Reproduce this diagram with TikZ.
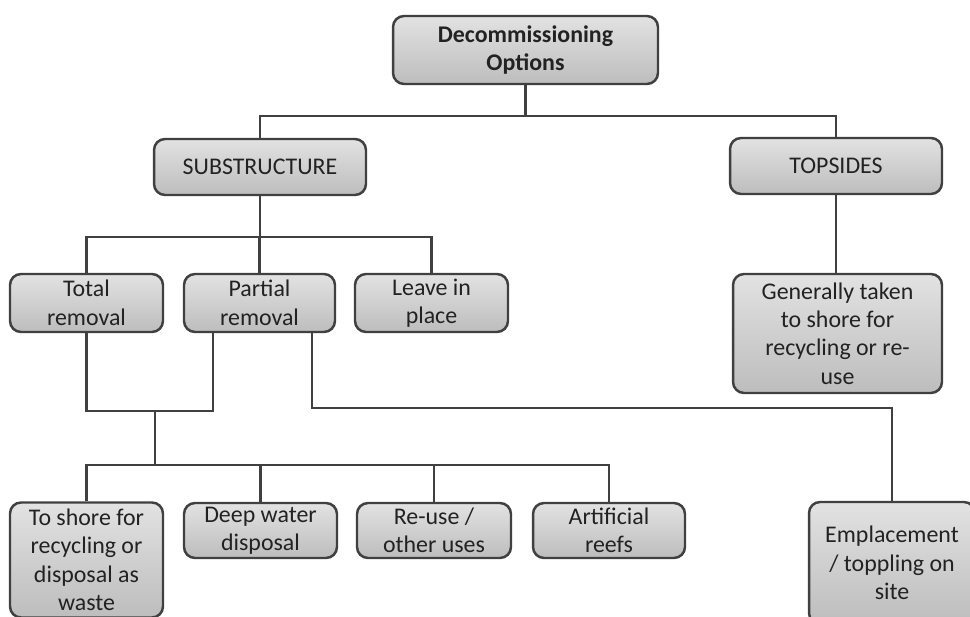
\documentclass[tikz,border=0pt]{standalone}
\usepackage{fontspec}
\setmainfont{Carlito}
\definecolor{boxline}{HTML}{404040}
\definecolor{boxtop}{HTML}{E2E2E2}
\definecolor{boxbot}{HTML}{BDBDBD}
\definecolor{inktext}{HTML}{222222}
\begin{document}
\begin{tikzpicture}[x=0.02cm, y=-0.02cm,
    optbox/.style={draw=boxline, line width=1.4pt, rounded corners=0.22cm,
        top color=boxtop, bottom color=boxbot, text=inktext, align=center,
        inner sep=2pt, font=\fontsize{13.6}{16.2}\selectfont},
    link/.style={draw=boxline, line width=1.4pt}]
    \useasboundingbox (0,0) rectangle (970,617);
    \clip (0,0) rectangle (970,617);

    % Root
    \node[optbox, minimum width=5.3cm, minimum height=1.36cm] (top) at (525.5,50)
        {\textbf{Decommissioning}\\\textbf{Options}};

    % Main branches
    \node[optbox, minimum width=4.24cm, minimum height=1.12cm] (sub) at (260,167) {SUBSTRUCTURE};
    \node[optbox, minimum width=4.24cm, minimum height=1.12cm] (tops) at (836,166) {TOPSIDES};

    % Substructure options
    \node[optbox, minimum width=3.06cm, minimum height=1.16cm] (total) at (86.5,303) {Total\\removal};
    \node[optbox, minimum width=3.02cm, minimum height=1.16cm] (partial) at (259.5,303) {Partial\\removal};
    \node[optbox, minimum width=3.06cm, minimum height=1.16cm] (leave) at (431.5,303) {Leave in\\place};

    % Topsides option
    \node[optbox, minimum width=4.18cm, minimum height=2.38cm] (gen) at (837.5,333.5)
        {Generally taken\\to shore for\\recycling or re-\\use};

    % Removal outcomes
    \node[optbox, minimum width=3.06cm, minimum height=2.3cm] (shore) at (86.5,560)
        {To shore for\\recycling or\\disposal as\\waste};
    \node[optbox, minimum width=3.06cm, minimum height=1.1cm] (deep) at (260.5,530.5) {Deep water\\disposal};
    \node[optbox, minimum width=3.08cm, minimum height=1.1cm] (reuse) at (434,530.5) {Re-use /\\other uses};
    \node[optbox, minimum width=3.04cm, minimum height=1.1cm] (reefs) at (609,530.5) {Artificial\\reefs};
    \node[optbox, minimum width=3.32cm, minimum height=2.44cm] (empl) at (892,563)
        {Emplacement\\/ toppling on\\site};

    % Bus levels
    \coordinate (busA) at (0,116);
    \coordinate (busB) at (0,237);
    \coordinate (busC) at (0,411);
    \coordinate (busD) at (0,465);
    \coordinate (busE) at (0,408);
    \coordinate (pl) at ([xshift=-0.93cm]partial.south);
    \coordinate (pr) at ([xshift=1.05cm]partial.south);
    \coordinate (jt) at (155,411);

    % Root to branches
    \draw[link] (top.south) -- (top.south |- busA);
    \draw[link] (sub.north) |- (tops.north |- busA) -- (tops.north);
    \draw[link] (tops.south) -- (tops.south |- gen.north);

    % Substructure to options
    \draw[link] (sub.south) -- (sub.south |- busB);
    \draw[link] (total.north) |- (leave.north |- busB) -- (leave.north);
    \draw[link] (partial.north) -- (partial.north |- busB);

    % Removal to outcomes
    \draw[link] (total.south) |- (pl |- busC) -- (pl);
    \draw[link] (jt) -- (jt |- busD);
    \draw[link] (shore.north) |- (reefs.north |- busD) -- (reefs.north);
    \draw[link] (deep.north) -- (deep.north |- busD);
    \draw[link] (reuse.north) -- (reuse.north |- busD);
    \draw[link] (pr) |- (empl.north |- busE) -- (empl.north);
\end{tikzpicture}
\end{document}
